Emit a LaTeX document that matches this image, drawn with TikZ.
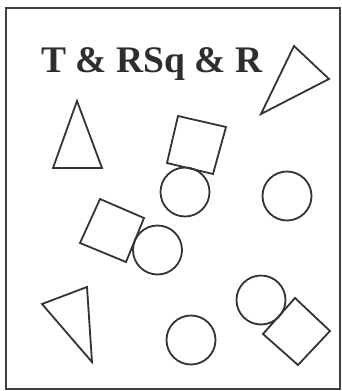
\documentclass[tikz,border=0pt]{standalone}
\usepackage{fontspec}
\setmainfont{Liberation Serif}
\usepackage{tikz}
\usetikzlibrary{positioning}

\tikzset{
  outline/.style={draw=black!80, line width=1.8pt, line join=miter},
  framebox/.style={draw=black!75, line width=1.6pt},
  titletext/.style={font=\fontsize{37.5}{40}\selectfont\bfseries, text=black!82, inner sep=0pt}
}

\begin{document}
\begin{tikzpicture}[x=1pt, y=-1pt]

  \useasboundingbox (0,0) rectangle (342,391);

  %% ===== FRAME =====
  \draw[framebox] (6,8) rectangle (340,389);
  \draw[black!75, line width=2.6pt] (6,8) -- (6,389);

  %% ===== TITLE =====
  \node[titletext, anchor=base] (title) at (152,72) {T \& RSq \& R};

  %% ===== TRIANGLES =====
  \draw[outline] (294,46) -- (329,79) -- (261,114) -- cycle;
  \draw[outline] (77,101) -- (102,168) -- (53,168) -- cycle;
  \draw[outline] (42,304) -- (87,287) -- (92,362) -- cycle;

  %% ===== SQUARES =====
  \draw[outline] (178,116) -- (226,127) -- (213,174) -- (167,163) -- cycle;
  \draw[outline] (100,199) -- (144,218) -- (126,262) -- (80,243) -- cycle;
  \draw[outline] (295,298) -- (330,331) -- (298,365) -- (263,334) -- cycle;

  %% ===== CIRCLES =====
  \draw[outline] (185,192) circle (24.5);
  \draw[outline] (287,196) circle (24.5);
  \draw[outline] (157.5,250) circle (24.5);
  \draw[outline] (191,340) circle (24.5);
  \draw[outline] (261,300) circle (24.5);

\end{tikzpicture}
\end{document}
